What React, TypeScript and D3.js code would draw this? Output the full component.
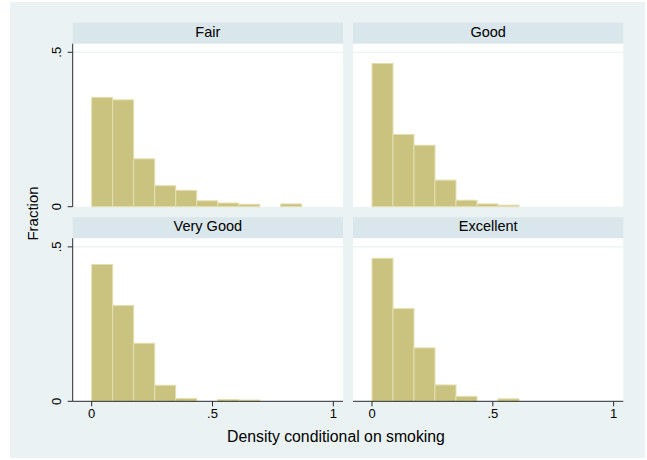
import React from 'react';
import * as d3 from 'd3';

// histogram fractions per panel, one value per bin (bins of equal width starting at 0)
const panels = ['Fair', 'Good', 'Very Good', 'Excellent'];
const fair = [0.354, 0.346, 0.155, 0.068, 0.053, 0.019, 0.012, 0.008, 0, 0.009];
const good = [0.464, 0.234, 0.199, 0.086, 0.021, 0.009, 0.005, 0, 0, 0];
const veryGood = [0.443, 0.31, 0.188, 0.052, 0.009, 0, 0.006, 0.004, 0, 0];
const excellent = [0.463, 0.3, 0.173, 0.053, 0.016, 0, 0.008, 0, 0, 0];
const series = [fair, good, veryGood, excellent];
const binWidth = 0.0869;
const xTicks = [0, 0.5, 1];
const xTickLabels = ['0', '.5', '1'];
const yTicks = [0, 0.5];
const yTickLabels = ['0', '.5'];

const W = 647;
const H = 460;
const font = '"Liberation Sans", Arial, Helvetica, sans-serif';
const bgColor = '#eaf2f3';
const stripColor = '#d9e6eb';
const barFill = '#c9c37f';
const barStroke = '#e4dfb2';
const axisColor = '#2a2a2a';

const plotLeft = 72.7;
const panelW = 270.3;
const colGap = 10;
const rowTops = [22.7, 217.3];
const stripH = 21;
const plotH = 163;

const App = () => {
  const x = d3.scaleLinear().domain([-0.0786, 1.04]).range([0, panelW]);
  const y = d3.scaleLinear().domain([0, 0.5278]).range([plotH, 0]);

  return (
    <div style={{ position: 'absolute', left: 0, top: 0 }}>
      <svg width={W} height={H} style={{ display: 'block', fontFamily: font }}>
        <rect x={0} y={0} width={W} height={H} fill="#fff" />
        <rect x={10} y={2} width={635} height={456} fill={bgColor} />

        {panels.map((name, i) => {
          const col = i % 2;
          const row = Math.floor(i / 2);
          const px = plotLeft + col * (panelW + colGap);
          const sy = rowTops[row];
          const py = sy + stripH;
          const values = series[i];
          return (
            <g key={name}>
              <rect x={px} y={sy} width={panelW} height={stripH} fill={stripColor} />
              <text x={px + panelW / 2} y={sy + 14} textAnchor="middle" fontSize={14.5} fill="#000">
                {name}
              </text>
              <g transform={`translate(${px},${py})`}>
                <rect x={0} y={0} width={panelW} height={plotH} fill="#fff" />
                {yTicks.filter((t) => t > 0).map((t) => (
                  <line key={t} x1={0} x2={panelW} y1={y(t)} y2={y(t)} stroke={bgColor} strokeWidth={1.2} />
                ))}
                {values.map((v, k) =>
                  v > 0 ? (
                    <rect
                      key={k}
                      x={x(k * binWidth)}
                      y={y(v)}
                      width={x((k + 1) * binWidth) - x(k * binWidth)}
                      height={y(0) - y(v)}
                      fill={barFill}
                      stroke={barStroke}
                      strokeWidth={1}
                    />
                  ) : null
                )}
                {col === 0 && (
                  <g>
                    <line x1={0} x2={0} y1={0} y2={plotH} stroke={axisColor} strokeWidth={1} />
                    {yTicks.map((t, k) => (
                      <g key={t} transform={`translate(0,${y(t)})`}>
                        <line x1={-5} x2={0} y1={0} y2={0} stroke={axisColor} strokeWidth={1} />
                        <text
                          transform="translate(-11.5,0) rotate(-90)"
                          textAnchor="middle"
                          fontSize={13}
                          fill="#000"
                        >
                          {yTickLabels[k]}
                        </text>
                      </g>
                    ))}
                  </g>
                )}
                {row === 1 && (
                  <g>
                    <line x1={0} x2={panelW} y1={plotH} y2={plotH} stroke={axisColor} strokeWidth={1} />
                    {xTicks.map((t, k) => (
                      <g key={t} transform={`translate(${x(t)},${plotH})`}>
                        <line x1={0} x2={0} y1={0} y2={5} stroke={axisColor} strokeWidth={1} />
                        <text y={17} textAnchor="middle" fontSize={13} fill="#000">
                          {xTickLabels[k]}
                        </text>
                      </g>
                    ))}
                  </g>
                )}
              </g>
            </g>
          );
        })}

        <text
          transform={`translate(38,213.5) rotate(-90)`}
          textAnchor="middle"
          fontSize={15}
          fill="#000"
        >
          Fraction
        </text>
        <text x={336} y={442.3} textAnchor="middle" fontSize={15.8} fill="#000">
          Density conditional on smoking
        </text>
      </svg>
    </div>
  );
};

export default App;
